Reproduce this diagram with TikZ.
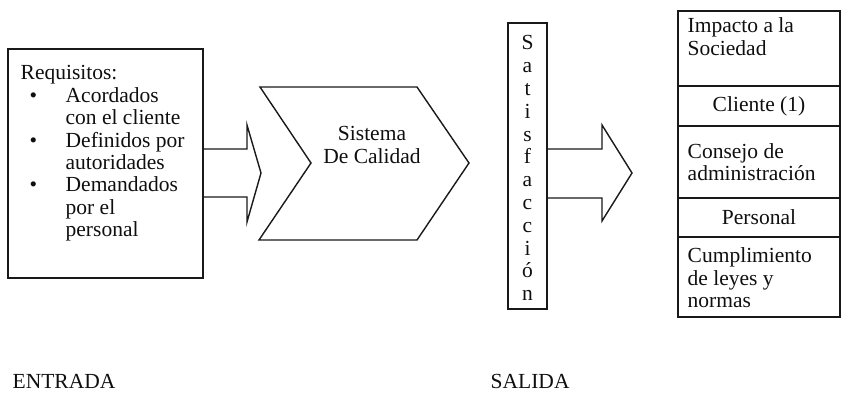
\documentclass[tikz,border=0pt]{standalone}
\usepackage{fontspec}
\setmainfont{Liberation Serif}
\usepackage{xcolor}
\usetikzlibrary{positioning}
\definecolor{qline}{RGB}{25,25,25}
\definecolor{qtext}{RGB}{15,15,15}
\newcommand{\qfont}{\fontsize{21.5}{22.4}\selectfont}
\newcommand{\qbul}{\makebox[45pt][l]{\hspace{9pt}\textbullet}}
\newcommand{\qind}{\hspace*{45pt}}

\begin{document}
\begin{tikzpicture}[
  x=1pt, y=-1pt,
  line width=1.4pt,
  every node/.style={font=\qfont, text=qtext},
  cell/.style={draw=qline, minimum width=162pt, outer sep=0pt, inner sep=0pt},
  lbl/.style={inner sep=0pt, align=left}
]
\useasboundingbox (0,0) rectangle (841,404);

%% ── ENTRADA ─────────────────────────────────────────────────────
\node[draw=qline, anchor=north west, minimum width=195pt, minimum height=229pt,
      outer sep=0pt] (req) at (8,49) {};
\node[lbl, anchor=north west] (reqtxt) at (20,65)
  {Requisitos:\\
   \qbul Acordados\\
   \qind con el cliente\\
   \qbul Definidos por\\
   \qind autoridades\\
   \qbul Demandados\\
   \qind por el\\
   \qind personal};

%% input arrow
\draw[qline] (req.east |- 0,149) -- (247,149) -- (247,125) -- (261,173)
  -- (247,222) -- (247,197) -- (req.east |- 0,197);

%% ── SISTEMA ─────────────────────────────────────────────────────
\draw[qline] (260,87) -- (417,87) -- (469,163) -- (417,240) -- (259,240)
  -- (311,163) -- cycle;
\node[align=center, inner sep=0pt] (sdc) at (372,145) {Sistema\\De Calidad};

%% ── SATISFACCION ────────────────────────────────────────────────
\node[draw=qline, anchor=north west, minimum width=39pt, minimum height=286pt,
      outer sep=0pt] (sat) at (508,23) {};
\node[align=center, inner sep=0pt, anchor=north,
      font=\fontsize{21.5}{22.8}\selectfont] (sattxt) at (sat.north |- 0,35)
  {S\\a\\t\\i\\s\\f\\a\\c\\c\\i\\ó\\n};

%% output arrow
\draw[qline] (sat.east |- 0,149) -- (602,149) -- (602,125) -- (632,173)
  -- (602,221) -- (602,198) -- (sat.east |- 0,198);

%% ── SALIDA ──────────────────────────────────────────────────────
\node[cell, minimum height=75pt, anchor=north west] (imp) at (678,11) {};
\node[cell, minimum height=40pt, below=0pt of imp] (cli) {};
\node[cell, minimum height=72pt, below=0pt of cli] (con) {};
\node[cell, minimum height=39pt, below=0pt of con] (per) {};
\node[cell, minimum height=80pt, below=0pt of per] (cum) {};

\node[lbl, anchor=north west] (imptxt) at ([shift={(9pt,-6pt)}]imp.north west)
  {Impacto a la\\Sociedad};
\node[lbl] (clitxt) at (cli) {Cliente (1)};
\node[lbl, anchor=west] (contxt) at ([xshift=9pt]con.west)
  {Consejo de\\administración};
\node[lbl] (pertxt) at (per) {Personal};
\node[lbl, anchor=north west] (cumtxt) at ([shift={(9pt,-10pt)}]cum.north west)
  {Cumplimiento\\de leyes y\\normas};

%% ── CAPTIONS ────────────────────────────────────────────────────
\node[lbl, anchor=west] (ent) at (12,381) {ENTRADA};
\node[lbl, anchor=west] (sal) at (490,381) {SALIDA};

\end{tikzpicture}
\end{document}
